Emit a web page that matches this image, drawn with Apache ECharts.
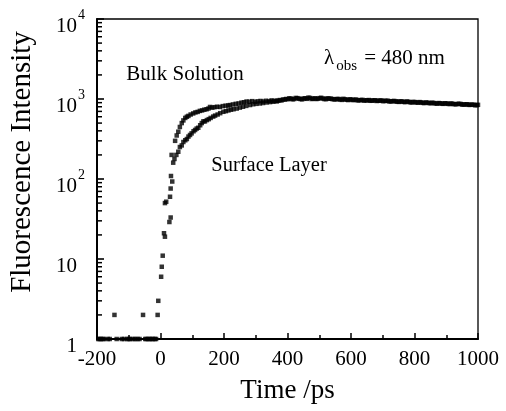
<!DOCTYPE html>
<html><head><meta charset="utf-8">
<script src="https://cdn.jsdelivr.net/npm/echarts@6/dist/echarts.min.js"></script>
<style>html,body{margin:0;padding:0;background:#fff}#c{width:506px;height:411px}</style>
</head><body><div id="c"></div>
<script>
// Bulk Solution: time (ps) and fluorescence intensity (counts)
const bulkTime = [-196,-188,-178,-166,-145,-122,-104,-96,-86,-72,-55,-44,-34,-24,-14,-7,
  4,11,14,18,30,32,33,35,
  46,51,56,61,67,72,78,83,88,95,103,110,117,124,131,138,145,151,156,163,170,178,187,196,205,213,219,228,237,246,255,263,271,280,289,298,306,315,323,332,341,350,358,366,
  376,386,396,406,416,426,436,446,456,466,476,486,496,506,516,526,536,546,556,566,576,586,596,606,616,626,636,646,656,666,676,686,696,706,716,726,736,746,756,766,776,786,796,806,816,826,836,846,856,866,876,886,896,906,916,926,936,946,956,966,976,986,996];
const bulkIntensity = [1,1,1,1,2,1,1,1,1,1,2,1,1,1,1,3,
  8,21,50,52,60,76,109,200,
  300,350,390,447,500,540,580,600,615,640,660,680,690,710,720,735,745,760,795,780,790,800,795,815,825,830,840,855,870,880,900,910,930,925,940,920,935,945,930,950,940,960,945,955,
  970,985,1000,1020,990,1030,1010,990,1020,1040,1000,1020,1010,1035,1000,1020,1010,990,1000,985,1005,980,990,970,985,965,975,960,970,955,965,950,960,945,950,935,945,925,935,920,930,910,920,905,915,895,905,890,900,880,890,875,885,870,880,860,870,865,855,860,845,850,840];

// Surface Layer: time (ps) and fluorescence intensity (counts)
const surfaceTime = [-192,-182,-160,-138,-115,-100,-80,-66,-48,-38,-28,-18,-9,
  2,7,14,28,32,37,40,44,50,56,61,67,72,78,83,88,93,98,104,109,114,119,125,130,135,140,146,152,158,166,172,180,188,198,206,214,222,230,240,250,260,270,282,292,302,313,323,334,345,355,366,
  371,381,391,401,411,421,431,441,451,461,471,481,491,501,511,521,531,541,551,561,571,581,591,601,611,621,631,641,651,661,671,681,691,701,711,721,731,741,751,761,771,781,791,801,811,821,831,841,851,861,871,881,891,901,911,921,931,941,951,961,971,981,991,1000];
const surfaceIntensity = [1,1,1,1,1,1,1,1,1,1,1,1,2,
  6,11,19,29,33,93,160,178,200,219,251,263,290,305,316,339,355,372,395,410,427,437,470,500,525,525,545,560,580,603,620,640,665,692,705,720,735,745,759,780,800,820,841,860,870,880,891,905,915,925,933,
  950,960,985,995,1010,1000,1025,1000,1015,1005,1030,1010,1000,1025,1015,995,1010,1000,990,1000,975,990,970,985,975,960,970,955,965,950,960,945,955,940,950,930,940,935,920,930,915,925,905,915,900,905,890,900,885,890,875,885,870,880,865,870,860,870,850,855,845,850,835,845];

// Axis ticks
const xMin = -200, xMax = 1000, xStep = 200;
const yMin = 1, yMax = 10000;
const yMinorTicks = [2,3,4,5,6,7,8,9,20,30,40,50,60,70,80,90,200,300,400,500,600,700,800,900,2000,3000,4000,5000,6000,7000,8000,9000];

const FONT = 'Liberation Serif';
const zip = (a, b) => a.map((v, i) => [v, b[i]]);

const chart = echarts.init(document.getElementById('c'), null, {renderer: 'canvas'});
chart.setOption({
  animation: false,
  backgroundColor: '#fff',
  grid: {left: 97, right: 28, top: 19, bottom: 72, show: true, borderColor: '#000', borderWidth: 1.3, containLabel: false},
  xAxis: {
    type: 'value', min: xMin, max: xMax, interval: xStep,
    name: 'Time /ps', nameLocation: 'middle', nameGap: 38,
    nameTextStyle: {fontFamily: FONT, fontSize: 27, color: '#000'},
    axisLine: {show: true, onZero: false, lineStyle: {color: '#000', width: 2}},
    axisTick: {show: true, inside: true, length: 6, lineStyle: {color: '#000', width: 1.5}},
    minorTick: {show: true, splitNumber: 2, length: 4, lineStyle: {color: '#000', width: 1.5}},
    splitLine: {show: false},
    axisLabel: {fontFamily: FONT, fontSize: 21, color: '#000', margin: 10, showMinLabel: true, showMaxLabel: true,
      formatter: v => String(v)}
  },
  yAxis: {
    type: 'log', logBase: 10, min: yMin, max: yMax, splitNumber: 4,
    axisLine: {show: true, onZero: false, lineStyle: {color: '#000', width: 2}},
    axisTick: {show: true, inside: true, length: 7, lineStyle: {color: '#000', width: 1.6}},
    splitLine: {show: false},
    axisLabel: {
      fontFamily: FONT, color: '#000', margin: 12,
      formatter: function (v) {
        const e = Math.round(Math.log10(v));
        if (e === 0) return '{p|1}';
        if (e === 1) return '{p|10}';
        return '{m|10}{s|' + e + '}';
      },
      rich: {
        p: {fontFamily: FONT, fontSize: 21, lineHeight: 22, color: '#000', padding: [8, 8, 8, 0], verticalAlign: 'top'},
        m: {fontFamily: FONT, fontSize: 21, lineHeight: 22, color: '#000', padding: [8, 0, 8, 0], verticalAlign: 'top'},
        s: {fontFamily: FONT, fontSize: 14, lineHeight: 14, color: '#000', verticalAlign: 'top', padding: [0, 0, 0, 1]}
      }
    }
  },
  graphic: [
    {type: 'text', x: 22, y: 162, rotation: Math.PI / 2,
      style: {text: 'Fluorescence Intensity', fontFamily: FONT, fontSize: 29, fill: '#000', align: 'center', verticalAlign: 'middle'}},
    {type: 'text', x: 185, y: 74,
      style: {text: 'Bulk Solution', fontFamily: FONT, fontSize: 21, fill: '#000', align: 'center', verticalAlign: 'middle'}},
    {type: 'text', x: 269, y: 166,
      style: {text: 'Surface Layer', fontFamily: FONT, fontSize: 20.5, fill: '#000', align: 'center', verticalAlign: 'middle'}},
    {type: 'text', x: 324, y: 59,
      style: {
        text: '{a|λ}{b|obs}{a| = 480 nm}', align: 'left', verticalAlign: 'middle',
        rich: {
          a: {fontFamily: FONT, fontSize: 21, lineHeight: 22, fill: '#000', color: '#000', verticalAlign: 'top'},
          b: {fontFamily: FONT, fontSize: 15, lineHeight: 15, fill: '#000', color: '#000', verticalAlign: 'top', padding: [11, 2, 0, 2]}
        }
      }}
  ],
  series: [
    {
      name: 'Bulk Solution', type: 'scatter', data: zip(bulkTime, bulkIntensity),
      symbol: 'rect', symbolSize: 4.5, itemStyle: {color: '#000'}, clip: false, z: 3
    },
    {
      name: 'Surface Layer', type: 'scatter', data: zip(surfaceTime, surfaceIntensity),
      symbol: 'rect', symbolSize: 4.5, itemStyle: {color: '#000'}, clip: false, z: 3
    },
    {
      name: 'minor ticks', type: 'custom', silent: true, clip: false, z: 10,
      data: yMinorTicks.map(v => [xMin, v]),
      renderItem: function (params, api) {
        const p = api.coord([api.value(0), api.value(1)]);
        return {type: 'line', shape: {x1: p[0], y1: p[1], x2: p[0] + 5, y2: p[1]}, style: {stroke: '#000', lineWidth: 1.5}};
      }
    }
  ]
});
</script></body></html>
